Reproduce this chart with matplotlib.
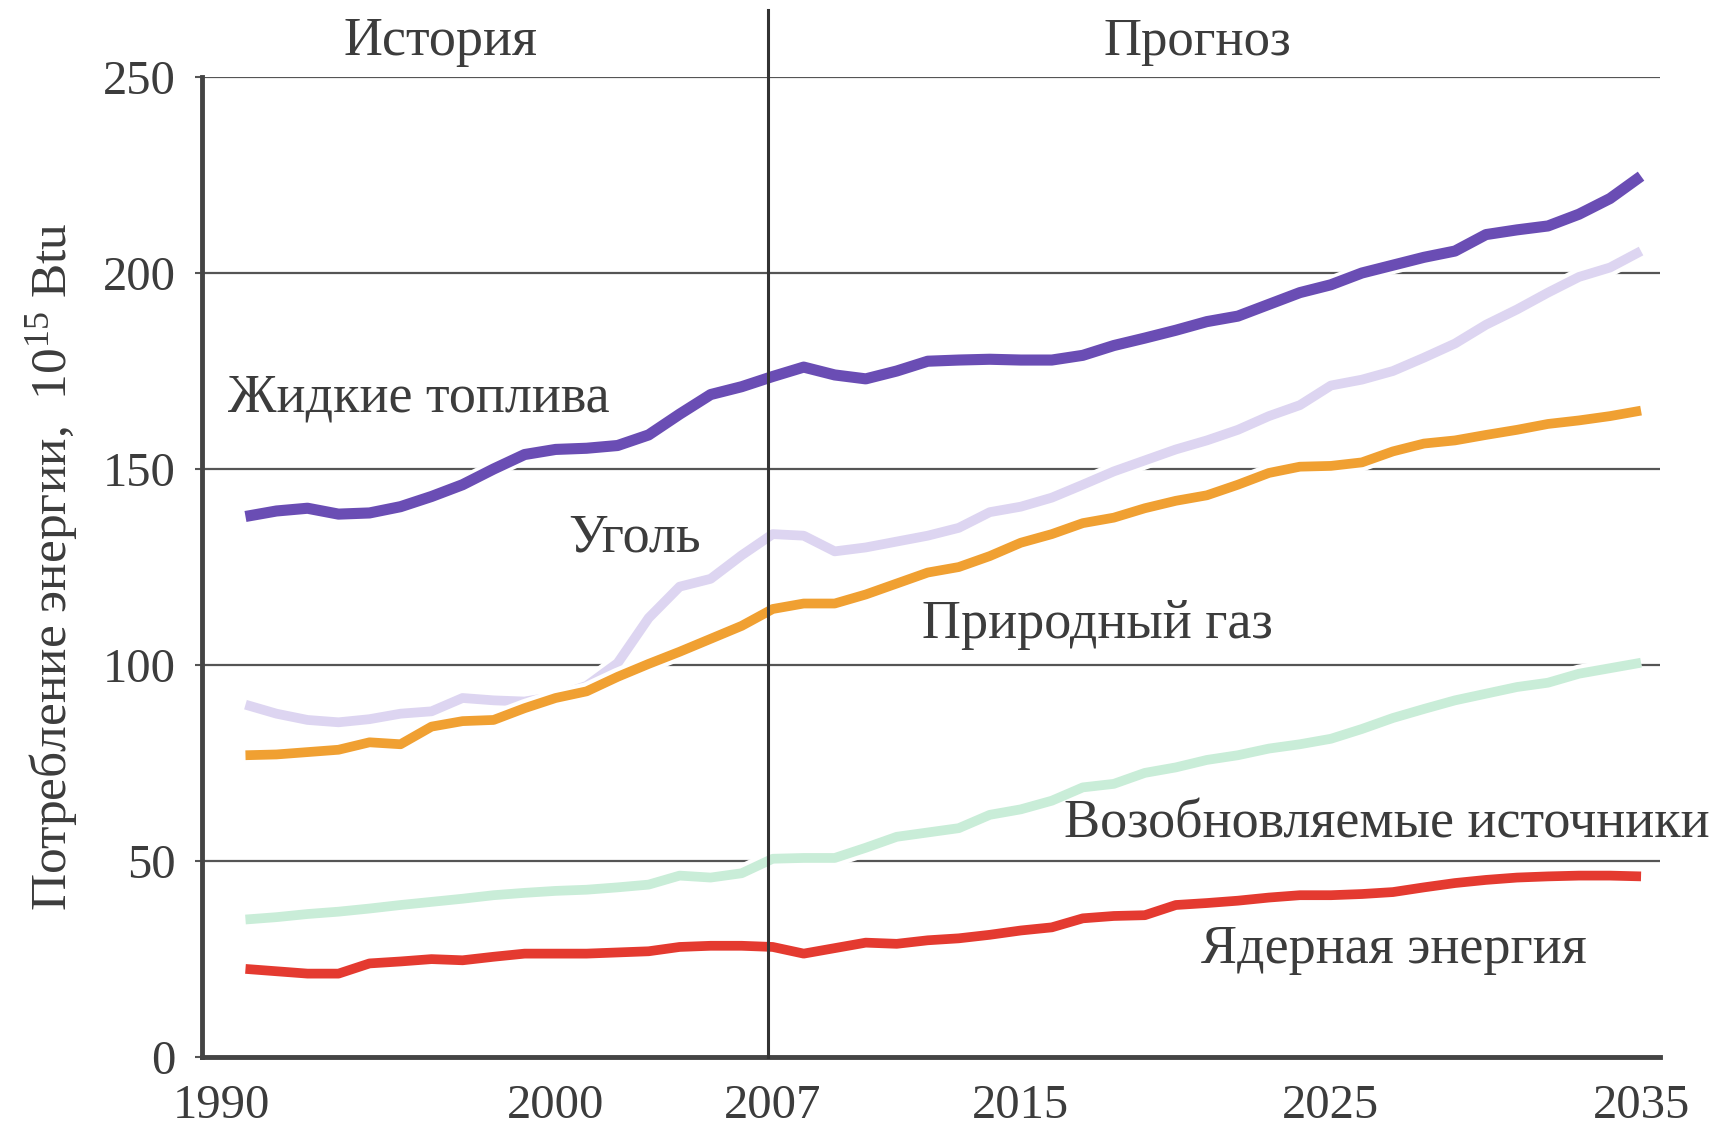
import matplotlib
matplotlib.use('Agg')
import matplotlib.pyplot as plt
import matplotlib.patheffects as pe
from matplotlib.transforms import ScaledTranslation

plt.rcParams['font.family'] = ['Liberation Serif', 'DejaVu Serif']
plt.rcParams['mathtext.fontset'] = 'custom'
plt.rcParams['mathtext.rm'] = 'Liberation Serif'

years = list(range(1990, 2036))

# Жидкие топлива
liquids = [137.9, 139.3, 140.0, 138.5, 138.8, 140.4, 143.0, 146.0, 150.0, 153.7,
           155.0, 155.3, 156.0, 158.7, 164.0, 169.0, 171.0, 173.6, 176.0, 174.0,
           173.0, 175.0, 177.5, 177.8, 178.0, 177.8, 177.8, 179.0, 181.5, 183.4,
           185.4, 187.6, 189.0, 192.0, 195.0, 197.0, 200.0, 202.0, 204.0, 205.6,
           209.8, 211.0, 212.0, 215.0, 219.0, 224.7]
# Уголь
coal = [89.9, 87.6, 86.0, 85.4, 86.2, 87.6, 88.2, 91.6, 91.0, 90.7,
        92.0, 94.7, 100.5, 112.0, 120.0, 122.0, 128.0, 133.4, 133.0, 129.0,
        130.0, 131.5, 133.0, 135.0, 139.0, 140.4, 142.7, 146.0, 149.4, 152.2,
        155.0, 157.3, 160.0, 163.5, 166.3, 171.3, 172.8, 175.0, 178.4, 182.0,
        186.8, 190.7, 195.0, 199.0, 201.4, 205.6]
# Природный газ
gas = [77.0, 77.2, 77.8, 78.4, 80.3, 79.8, 84.3, 85.7, 86.0, 89.0,
       91.6, 93.3, 97.0, 100.3, 103.4, 106.7, 110.0, 114.3, 115.7, 115.7,
       118.0, 120.8, 123.6, 125.0, 127.8, 131.2, 133.4, 136.2, 137.6, 140.0,
       141.9, 143.3, 146.0, 149.0, 150.6, 150.8, 151.7, 154.5, 156.5, 157.3,
       158.7, 160.0, 161.5, 162.4, 163.5, 164.9]
# Возобновляемые источники
renewables = [35.1, 35.7, 36.5, 37.1, 37.9, 38.8, 39.6, 40.4, 41.3, 41.9,
              42.4, 42.7, 43.3, 44.0, 46.3, 45.8, 46.9, 50.6, 50.8, 50.8,
              53.4, 56.2, 57.3, 58.4, 61.8, 63.2, 65.4, 68.8, 69.7, 72.5,
              73.9, 75.8, 77.0, 78.7, 79.8, 81.2, 83.7, 86.5, 88.8, 91.0,
              92.7, 94.4, 95.5, 97.8, 99.2, 100.6]
# Ядерная энергия
nuclear = [22.5, 21.9, 21.3, 21.3, 23.9, 24.4, 25.0, 24.7, 25.6, 26.4,
           26.4, 26.4, 26.7, 27.0, 28.1, 28.4, 28.4, 28.1, 26.4, 27.8,
           29.2, 28.9, 29.8, 30.3, 31.2, 32.3, 33.1, 35.4, 36.0, 36.2,
           38.8, 39.3, 39.9, 40.7, 41.3, 41.3, 41.6, 42.1, 43.3, 44.4,
           45.2, 45.8, 46.1, 46.3, 46.3, 46.1]

tick_years = [1990, 2000, 2007, 2015, 2025, 2035]
y_ticks = [0, 50, 100, 150, 200, 250]
split_year = 2007

text_color = '#3c3c3c'

fig = plt.figure(figsize=(17.27, 11.27), dpi=100)
ax = fig.add_axes([0.117, 0.062, 0.844, 0.8697])

halo = [pe.Stroke(linewidth=13, foreground='white'), pe.Normal()]
line_kw = dict(zorder=3, path_effects=halo, solid_capstyle='butt', solid_joinstyle='round')
ax.plot(years, coal, color='#ddd5f1', lw=7, **line_kw)
ax.plot(years, gas, color='#f0a032', lw=7, **line_kw)
ax.plot(years, renewables, color='#c9edd8', lw=7, **line_kw)
ax.plot(years, nuclear, color='#e43a30', lw=7, **line_kw)
ax.plot(years, liquids, color='#6a4db4', lw=8, **line_kw)

ax.set_xlim(1988.6, 2035.6)
ax.set_ylim(0, 250)

# History / forecast split line
ax.axvline(split_year - 0.15, ymin=0, ymax=1.068, color='#333333', lw=2.2, zorder=4, clip_on=False)

ax.set_yticks(y_ticks)
ax.set_xticks(tick_years)
ax.set_xticklabels([str(y) for y in tick_years])
ax.yaxis.grid(True, color='#555555', lw=1.6)
ax.set_axisbelow(True)
ax.tick_params(axis='y', length=5, width=1.5, color='#555555', pad=14,
               labelsize=35, labelcolor=text_color)
ax.tick_params(axis='x', length=0, pad=19, labelsize=35, labelcolor=text_color)

# first year label sits a little left of its tick in the original
first = ax.get_xticklabels()[0]
first.set_transform(first.get_transform() + ScaledTranslation(-17 / 72, 0, fig.dpi_scale_trans))

for side in ['top', 'right']:
    ax.spines[side].set_visible(False)
ax.spines['left'].set_linewidth(3.5)
ax.spines['left'].set_color('#444444')
ax.spines['bottom'].set_linewidth(3.5)
ax.spines['bottom'].set_color('#444444')

ax.set_ylabel(r'Потребление энергии,  $\mathregular{10^{15}}$ Btu', fontsize=37,
              color=text_color, labelpad=16)

ax.text(1996.3, 259, 'История', fontsize=39, color=text_color, ha='center', va='center', clip_on=False)
ax.text(2020.7, 259, 'Прогноз', fontsize=38, color=text_color, ha='center', va='center', clip_on=False)

lab_kw = dict(fontsize=39, color=text_color, ha='left', va='center', clip_on=False)
ax.text(1989.45, 168, 'Жидкие топлива', **lab_kw)
ax.text(2000.4, 132.3, 'Уголь', **lab_kw)
ax.text(2011.8, 110.4, 'Природный газ', **lab_kw)
ax.text(2016.4, 59.3, 'Возобновляемые источники', **lab_kw)
ax.text(2020.8, 27.5, 'Ядерная энергия', **lab_kw)

fig.savefig('out.png', dpi=100)
